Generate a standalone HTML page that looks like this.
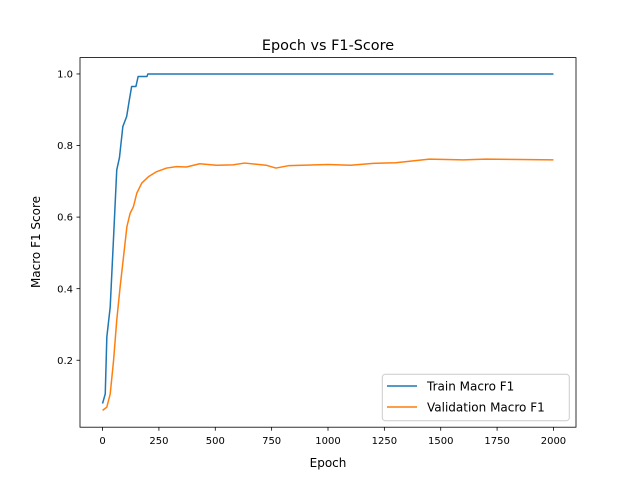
<!DOCTYPE html>
<html><head><meta charset="utf-8"><style>
body{margin:0;background:#fff;}
svg text{font-family:"DejaVu Sans","Liberation Sans",sans-serif;fill:#000;}
</style></head><body>
<svg id="chart" width="640" height="480" viewBox="0 0 640 480" xmlns="http://www.w3.org/2000/svg">
<rect width="640" height="480" fill="#fff"/>
<text x="328" y="50" font-size="14.4" text-anchor="middle">Epoch vs F1-Score</text>
<g id="plot"></g>
<g id="axes"></g>
<text x="328" y="467" font-size="12" text-anchor="middle">Epoch</text>
<text transform="translate(40,242) rotate(-90)" font-size="12" text-anchor="middle">Macro F1 Score</text>
<g>
<rect x="382.3" y="374.3" width="187" height="46.4" rx="3" fill="#fff" fill-opacity="0.8" stroke="#ccc" stroke-width="1"/>
<g>
<line x1="387" y1="386" x2="417" y2="386" stroke="#1f77b4" stroke-width="1.5"/>
<text x="427" y="390.5" font-size="12">Train Macro F1</text></g>
<g>
<line x1="387" y1="407" x2="417" y2="407" stroke="#ff7f0e" stroke-width="1.5"/>
<text x="427" y="411.5" font-size="12">Validation Macro F1</text></g>
</g>
</svg>
<script>
const trainEpochs=[0,12,19,34,49,63,75,90,107,119,129,148,158,197,201,2000];
const trainF1=[0.079,0.106,0.265,0.349,0.545,0.732,0.766,0.853,0.881,0.928,0.965,0.965,0.993,0.993,1.0,1.0];
const valEpochs=[0,19,34,49,63,78,93,108,122,137,152,174,204,240,284,328,372,431,505,578,630,725,769,828,1000,1100,1200,1300,1450,1600,1700,1850,2000];
const valF1=[0.060,0.069,0.106,0.200,0.312,0.405,0.489,0.573,0.610,0.629,0.667,0.695,0.713,0.727,0.737,0.741,0.740,0.749,0.745,0.746,0.751,0.745,0.737,0.744,0.747,0.745,0.750,0.752,0.762,0.760,0.762,0.761,0.760];
const xTicks=[0,250,500,750,1000,1250,1500,1750,2000];
const yTicks=[0.2,0.4,0.6,0.8,1.0];
const L=80,R=576,T=57.6,B=427.2;
const xMin=-100,xMax=2100,yMin=0.0129,yMax=1.0457;
const sx=v=>L+(v-xMin)/(xMax-xMin)*(R-L);
const sy=v=>B-(v-yMin)/(yMax-yMin)*(B-T);
const NS="http://www.w3.org/2000/svg";
const plot=document.getElementById('plot'),axes=document.getElementById('axes');
function mk(tag,attrs,parent){const e=document.createElementNS(NS,tag);for(const k in attrs)e.setAttribute(k,attrs[k]);parent.appendChild(e);return e;}
function series(xs,ys,color,name){
  const p=mk('path',{d:xs.map((x,i)=>(i?'L':'M')+sx(x).toFixed(2)+','+sy(ys[i]).toFixed(2)).join(''),fill:'none',stroke:color,'stroke-width':1.5,'stroke-linejoin':'round'},plot);
  
  
}
series(trainEpochs,trainF1,'#1f77b4','train-line');
series(valEpochs,valF1,'#ff7f0e','validation-line');
const frame=mk('rect',{x:L,y:T,width:R-L,height:B-T,fill:'none',stroke:'#000','stroke-width':0.8},axes);


xTicks.forEach(t=>{
  const x=sx(t);
  const g=mk('g',{},axes);
  
  
  mk('line',{x1:x,y1:B,x2:x,y2:B+3.5,stroke:'#000','stroke-width':0.8},g);
  const tx=mk('text',{x:x,y:B+17,'font-size':10,'text-anchor':'middle'},g);tx.textContent=t;
});
yTicks.forEach(t=>{
  const y=sy(t);
  const g=mk('g',{},axes);
  
  
  mk('line',{x1:L-3.5,y1:y,x2:L,y2:y,stroke:'#000','stroke-width':0.8},g);
  const tx=mk('text',{x:L-7,y:y+3.6,'font-size':10,'text-anchor':'end'},g);tx.textContent=t.toFixed(1);
});
</script>
</body></html>
